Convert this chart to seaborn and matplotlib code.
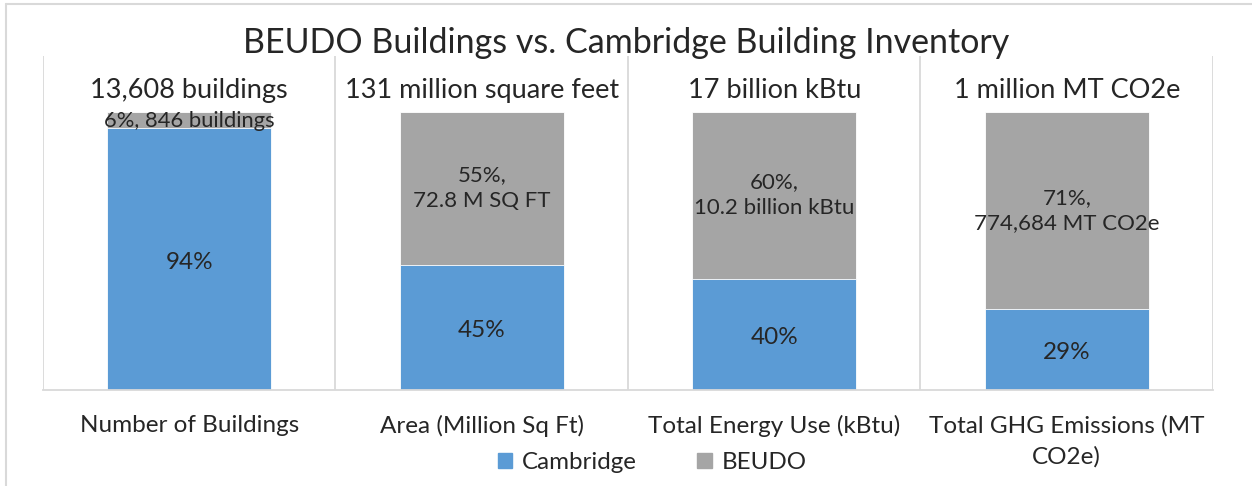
import numpy as np
import pandas as pd
import matplotlib
matplotlib.use("Agg")
import matplotlib.pyplot as plt
import seaborn as sns

# chart data (shares of the Cambridge inventory)
categories = ["Number of Buildings", "Area (Million Sq Ft)",
              "Total Energy Use (kBtu)", "Total GHG Emissions (MT\nCO2e)"]
cambridge = [0.94, 0.45, 0.40, 0.29]
beudo = [0.06, 0.55, 0.60, 0.71]
total_labels = ["13,608 buildings", "131 million square feet",
                "17 billion kBtu", "1 million MT CO2e"]
cambridge_labels = ["94%", "45%", "40%", "29%"]
beudo_labels = ["6%, 846 buildings", "55%,\n72.8 M SQ FT",
                "60%,\n10.2 billion kBtu", "71%,\n774,684 MT CO2e"]

sns.set_theme(style="white")
plt.rcParams["font.family"] = ["Lato", "DejaVu Sans"]

blue = "#5B9BD5"
gray = "#A5A5A5"
grid = "#D9D9D9"

df = pd.DataFrame({"category": categories,
                   "Cambridge": cambridge,
                   "BEUDO": beudo})
df["total"] = df["Cambridge"] + df["BEUDO"]

fig = plt.figure(figsize=(12.52, 4.86), dpi=100)
ax = fig.add_axes([0.0343, 0.1975, 0.9345, 0.6873])

# stacked bars: full height in gray, Cambridge share in blue on top of it
sns.barplot(df, x="category", y="total", color=gray, width=0.56,
            saturation=1, edgecolor="white", linewidth=0.6, ax=ax)
sns.barplot(df, x="category", y="Cambridge", color=blue, width=0.56,
            saturation=1, edgecolor="white", linewidth=0.6, ax=ax)

ax.set_ylim(0, 1.2)
ax.set_xlim(-0.5, len(categories) - 0.5)
ax.set_yticks([])
ax.set_xlabel("")
ax.set_ylabel("")
ax.tick_params(axis="x", length=0, pad=18, labelsize=17.5)
for lab in ax.get_xticklabels():
    lab.set_linespacing(1.55)

# vertical separators between categories
for b in np.arange(-0.5, len(categories), 1.0):
    ax.axvline(b, color=grid, lw=1.3, zorder=0)
for side in ["top", "right", "left"]:
    ax.spines[side].set_visible(False)
ax.spines["bottom"].set_color(grid)
ax.spines["bottom"].set_linewidth(1.3)

for i in range(len(categories)):
    c = cambridge[i]
    b = beudo[i]
    ax.text(i, c / 2 - 0.012, cambridge_labels[i], ha="center", va="center",
            fontsize=17.5)
    if b < 0.1:
        ax.text(i, c + b / 2 - 0.004, beudo_labels[i], ha="center", va="center",
                fontsize=15.8)
    else:
        ax.text(i, c + b / 2, beudo_labels[i], ha="center", va="center",
                fontsize=16, linespacing=1.35)
    ax.text(i, 1.075, total_labels[i], ha="center", va="center", fontsize=19.5)

fig.text(0.5, 0.912, "BEUDO Buildings vs. Cambridge Building Inventory",
         ha="center", va="center", fontsize=24.5)

handles = [plt.Rectangle((0, 0), 1, 1, color=blue),
           plt.Rectangle((0, 0), 1, 1, color=gray)]
fig.legend(handles, ["Cambridge", "BEUDO"], loc="center",
           bbox_to_anchor=(0.521, 0.048), ncol=2, frameon=False, fontsize=17.4,
           handlelength=0.6, handleheight=0.6, handletextpad=0.4,
           columnspacing=2.5)

# chart area border (left and top edges visible in the reference)
fig.add_artist(plt.Line2D([0.0048, 0.0048], [0, 0.992], color=grid, lw=1.5))
fig.add_artist(plt.Line2D([0.0048, 1], [0.992, 0.992], color=grid, lw=1.5))

fig.savefig("out.png", dpi=100)
